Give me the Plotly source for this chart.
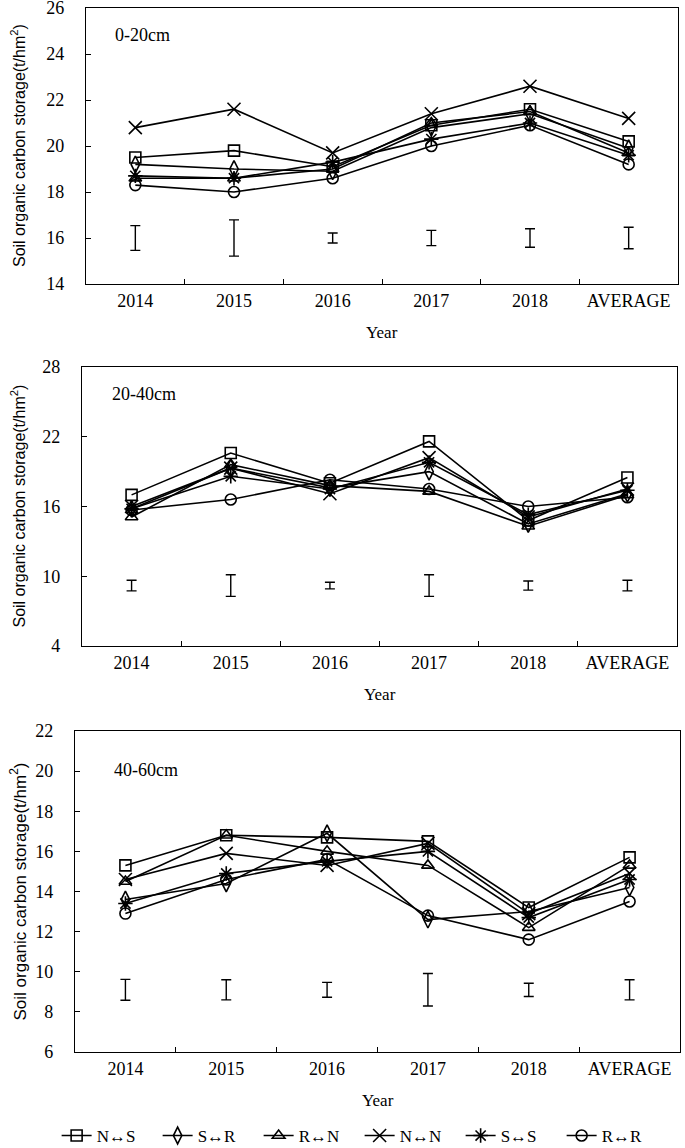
import plotly.graph_objects as go

W, H = 685, 1148

years = ["2014", "2015", "2016", "2017", "2018", "AVERAGE"]
series_names = ["N↔S", "S↔R", "R↔N", "N↔N", "S↔S", "R↔R"]

# 0-20 cm
p1_NS = [19.5, 19.8, 19.1, 20.9, 21.6, 20.2]
p1_SR = [19.2, 19.0, 18.9, 20.8, 21.4, 19.9]
p1_RN = [18.6, 18.6, 19.0, 21.0, 21.5, 19.7]
p1_NN = [20.8, 21.6, 19.7, 21.4, 22.6, 21.2]
p1_SS = [18.7, 18.6, 19.3, 20.3, 21.0, 19.6]
p1_RR = [18.3, 18.0, 18.6, 20.0, 20.9, 19.2]
p1_err_center = [16.0, 16.0, 16.0, 16.0, 16.0, 16.0]
p1_err_half = [0.54, 0.79, 0.22, 0.33, 0.40, 0.47]

# 20-40 cm
p2_NS = [17.0, 20.6, 18.0, 21.6, 14.8, 18.5]
p2_SR = [15.8, 19.3, 17.6, 19.0, 14.5, 17.1]
p2_RN = [15.1, 19.6, 17.8, 17.3, 14.3, 17.0]
p2_NN = [16.0, 19.3, 17.1, 20.2, 15.1, 17.5]
p2_SS = [15.8, 18.6, 17.5, 19.8, 15.3, 17.4]
p2_RR = [15.7, 16.6, 18.3, 17.5, 16.0, 16.8]
p2_err_center = [9.2, 9.2, 9.2, 9.2, 9.2, 9.2]
p2_err_half = [0.46, 0.93, 0.29, 0.93, 0.39, 0.46]

# 40-60 cm
p3_NS = [15.3, 16.8, 16.7, 16.5, 13.2, 15.7]
p3_SR = [13.6, 14.4, 16.9, 12.6, 13.0, 14.2]
p3_RN = [14.5, 16.8, 16.0, 15.3, 12.2, 15.3]
p3_NN = [14.6, 15.9, 15.3, 16.4, 12.9, 14.9]
p3_SS = [13.4, 14.9, 15.5, 16.0, 12.7, 14.6]
p3_RR = [12.9, 14.6, 15.6, 12.8, 11.6, 13.5]
p3_err_center = [9.1, 9.1, 9.1, 9.1, 9.1, 9.1]
p3_err_half = [0.52, 0.50, 0.37, 0.81, 0.33, 0.50]

depth_labels = ["0-20cm", "20-40cm", "40-60cm"]
y_ranges = [[14, 26], [4, 28], [6, 22]]
y_dticks = [2, 6, 2]

symbols = ["square-open", "diamond-tall-open", "triangle-up-open",
           "x-thin-open", "asterisk-open", "circle-open"]
msizes = [11, 12, 11, 13, 12, 11]

panels = [
    [p1_NS, p1_SR, p1_RN, p1_NN, p1_SS, p1_RR],
    [p2_NS, p2_SR, p2_RN, p2_NN, p2_SS, p2_RR],
    [p3_NS, p3_SR, p3_RN, p3_NN, p3_SS, p3_RR],
]
err_centers = [p1_err_center, p2_err_center, p3_err_center]
err_halves = [p1_err_half, p2_err_half, p3_err_half]

# panel boxes in pixels: (left, right, top, bottom)
boxes = [(86, 678, 8, 284), (82, 677, 367, 646), (75, 680, 731, 1052)]

SERIF = "Liberation Serif, Times New Roman, serif"
SANS = "Liberation Sans, Arial, sans-serif"

fig = go.Figure()
layout = dict(
    width=W, height=H,
    margin=dict(l=0, r=0, t=0, b=0, autoexpand=False),
    paper_bgcolor="white", plot_bgcolor="white",
    font=dict(family=SERIF, size=18, color="black"),
    showlegend=True,
    legend=dict(orientation="h", x=0.525, xanchor="center", y=1 - 1118 / H,
                yanchor="top", font=dict(family=SERIF, size=17, color="black"),
                entrywidth=56, entrywidthmode="pixels", itemwidth=30,
                bgcolor="rgba(0,0,0,0)"),
)
annotations = []

for i in range(3):
    ax = "" if i == 0 else str(i + 1)
    l, r, t, b = boxes[i]
    xd = [l / W, r / W]
    yd = [1 - b / H, 1 - t / H]
    for j, name in enumerate(series_names):
        fig.add_trace(go.Scatter(
            x=years, y=panels[i][j], name=name, mode="lines+markers",
            line=dict(color="black", width=1.6),
            marker=dict(symbol=symbols[j], size=msizes[j], color="black",
                        line=dict(color="black", width=1.6)),
            xaxis="x" + ax, yaxis="y" + ax,
            showlegend=(i == 0), legendgroup=name,
        ))
    fig.add_trace(go.Scatter(
        x=years, y=err_centers[i], mode="markers",
        marker=dict(size=1, color="rgba(0,0,0,0)"),
        error_y=dict(type="data", array=err_halves[i], color="black",
                     thickness=1.4, width=5),
        xaxis="x" + ax, yaxis="y" + ax, showlegend=False, hoverinfo="skip",
    ))
    layout["xaxis" + ax] = dict(
        domain=xd, anchor="y" + ax, type="category",
        categoryorder="array", categoryarray=years,
        range=[-0.5, 5.5], tickson="boundaries",
        ticks="inside", ticklen=5, tickwidth=1, tickcolor="black",
        showline=True, linecolor="black", linewidth=1.3, mirror=True,
        showgrid=False, zeroline=False, ticklabeloverflow="allow",
        tickfont=dict(family=SERIF, size=18, color="black"),
    )
    layout["yaxis" + ax] = dict(
        domain=yd, anchor="x" + ax, range=y_ranges[i], dtick=y_dticks[i],
        tick0=y_ranges[i][0],
        ticks="inside", ticklen=5, tickwidth=1, tickcolor="black",
        showline=True, linecolor="black", linewidth=1.3, mirror=True,
        showgrid=False, zeroline=False, ticklabelstandoff=17,
        ticklabeloverflow="allow",
        tickfont=dict(family=SERIF, size=18, color="black"),
    )
    # depth label
    label_pos = [(113, 35), (110, 394), (112, 770)][i]
    annotations.append(dict(
        text=depth_labels[i], xref="paper", yref="paper",
        x=label_pos[0] / W, y=1 - label_pos[1] / H, xanchor="left", yanchor="middle",
        showarrow=False, font=dict(family=SERIF, size=18, color="black")))
    # Year
    annotations.append(dict(
        text="Year", xref="paper", yref="paper",
        x=((l + r) / 2) / W, y=1 - (b + 48) / H, xanchor="center", yanchor="middle",
        showarrow=False, font=dict(family=SERIF, size=17, color="black")))
    # y title
    annotations.append(dict(
        text="Soil organic carbon storage(t/hm<sup>2</sup>)", xref="paper", yref="paper",
        x=18 / W, y=1 - ((t + b) / 2) / H, xanchor="center", yanchor="middle",
        textangle=-90, showarrow=False,
        font=dict(family=SANS, size=[16, 16, 17][i], color="black")))

layout["annotations"] = annotations
fig.update_layout(**layout)
fig.write_html(
    "out.html",
    config={"displayModeBar": False},
    post_script="document.body.style.margin='0';document.body.style.padding='0';"
                "document.body.style.overflow='hidden';",
)
